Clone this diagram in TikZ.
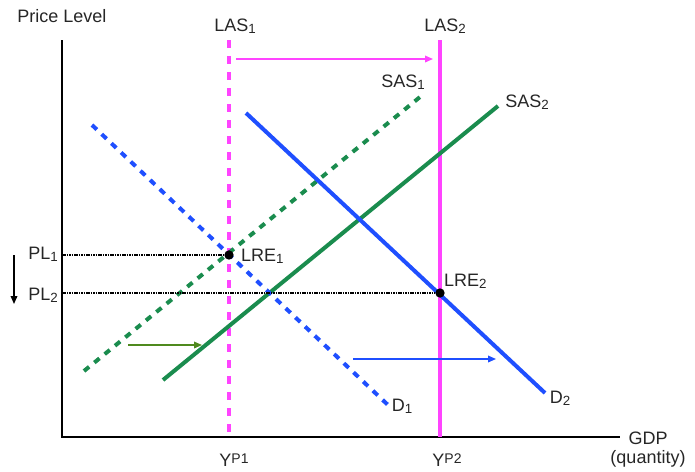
\documentclass[tikz,border=0pt]{standalone}
\usepackage{fontspec}
\setmainfont{Liberation Sans}
\usetikzlibrary{arrows.meta, positioning}
\definecolor{cmag}{HTML}{FF44FF}
\definecolor{cblue}{HTML}{1F4FFF}
\definecolor{cgreen}{HTML}{1A8C4E}
\definecolor{colive}{HTML}{4F8A1E}
\newcommand{\lowsub}[1]{\raisebox{-1.3pt}{\fontsize{10}{11}\selectfont #1}}
\newcommand{\highsup}[1]{\raisebox{2.4pt}{\fontsize{10.5}{11}\selectfont #1}}
\tikzset{
  every picture/.style={font=\fontsize{13.5}{15}\selectfont, line width=1.5pt},
  axis/.style={draw=black, line width=1.5pt},
  curve/.style={draw=#1, line width=3pt},
  dcurve/.style={draw=#1, line width=3pt, dash pattern=on 5pt off 5pt},
  guide/.style={draw=black, line width=0.8pt, dash pattern=on 1.2pt off 0.6pt},
  shift/.style={-{Triangle[length=6pt, width=5pt]}, draw=#1, line width=1pt},
  lbl/.style={inner sep=0pt, text=black!85},
  dot/.style={circle, fill=black, inner sep=0pt, minimum size=7pt},
}
\begin{document}
\begin{tikzpicture}[x=0.75pt, y=-0.75pt]
  \useasboundingbox (0,0) rectangle (695,471);
  % axes
  \coordinate (O) at (62,437);
  \coordinate (ytop) at (62,40);
  \coordinate (xend) at (620,437);
  \draw[axis] (ytop) -- (O) -- (xend);
  \node[lbl] (plabel) at (62,16) {Price Level};
  \node[lbl] (gdp) at (648,438) {GDP};
  \node[lbl] (qty) at (648,459) {(quantity)};
  % long-run supply
  \coordinate (las1t) at (229,40);
  \coordinate (las1b) at (229,437);
  \coordinate (las2t) at (440,40);
  \coordinate (las2b) at (440,437);
  \draw[dcurve=cmag, dash pattern=on 6pt off 6pt] (las1t) -- (las1b);
  \draw[curve=cmag, line width=3.3pt] (las2t) -- (las2b);
  \node[lbl] (las1) at (235,26) {LAS\lowsub{1}};
  \node[lbl] (las2) at (445,26) {LAS\lowsub{2}};
  \node[lbl] (yp1) at (234,460) {Y\highsup{P1}};
  \node[lbl] (yp2) at (447,460) {Y\highsup{P2}};
  % short-run supply
  \coordinate (sas1a) at (84,371);
  \coordinate (sas1b) at (420,97);
  \coordinate (sas2a) at (163,380);
  \coordinate (sas2b) at (498,106);
  \draw[dcurve=cgreen] (sas1a) -- (sas1b);
  \draw[curve=cgreen] (sas2a) -- (sas2b);
  \node[lbl] (sas1) at (403,82) {SAS\lowsub{1}};
  \node[lbl] (sas2) at (527,102) {SAS\lowsub{2}};
  % demand
  \coordinate (d1a) at (92,125);
  \coordinate (d1b) at (388,405);
  \coordinate (d2a) at (246,113);
  \coordinate (d2b) at (545,393);
  \draw[dcurve=cblue] (d1a) -- (d1b);
  \draw[curve=cblue] (d2a) -- (d2b);
  \node[lbl] (d1) at (402,406) {D\lowsub{1}};
  \node[lbl] (d2) at (560,398) {D\lowsub{2}};
  % equilibria
  \node[dot] (lre1) at (229,255) {};
  \node[dot] (lre2) at (440,293) {};
  \node[lbl, anchor=west] (lre1l) at (240,256) {LRE\lowsub{1}};
  \node[lbl, anchor=west] (lre2l) at (443,281) {LRE\lowsub{2}};
  \coordinate (pl1y) at (62,255);
  \coordinate (pl2y) at (62,293);
  \draw[guide] (pl1y) -- (lre1);
  \draw[guide] (pl2y) -- (lre2);
  \node[lbl] (pl1) at (43,254) {PL\lowsub{1}};
  \node[lbl] (pl2) at (43,295) {PL\lowsub{2}};
  % shifts
  \coordinate (dn1) at (14,255);
  \coordinate (dn2) at (14,304);
  \draw[shift=black] (dn1) -- (dn2);
  \coordinate (m1) at (236,59);
  \coordinate (m2) at (433,59);
  \draw[shift=cmag] (m1) -- (m2);
  \coordinate (g1) at (128,345);
  \coordinate (g2) at (202,345);
  \draw[shift=colive] (g1) -- (g2);
  \coordinate (b1) at (353,359);
  \coordinate (b2) at (496,359);
  \draw[shift=cblue] (b1) -- (b2);
\end{tikzpicture}
\end{document}
